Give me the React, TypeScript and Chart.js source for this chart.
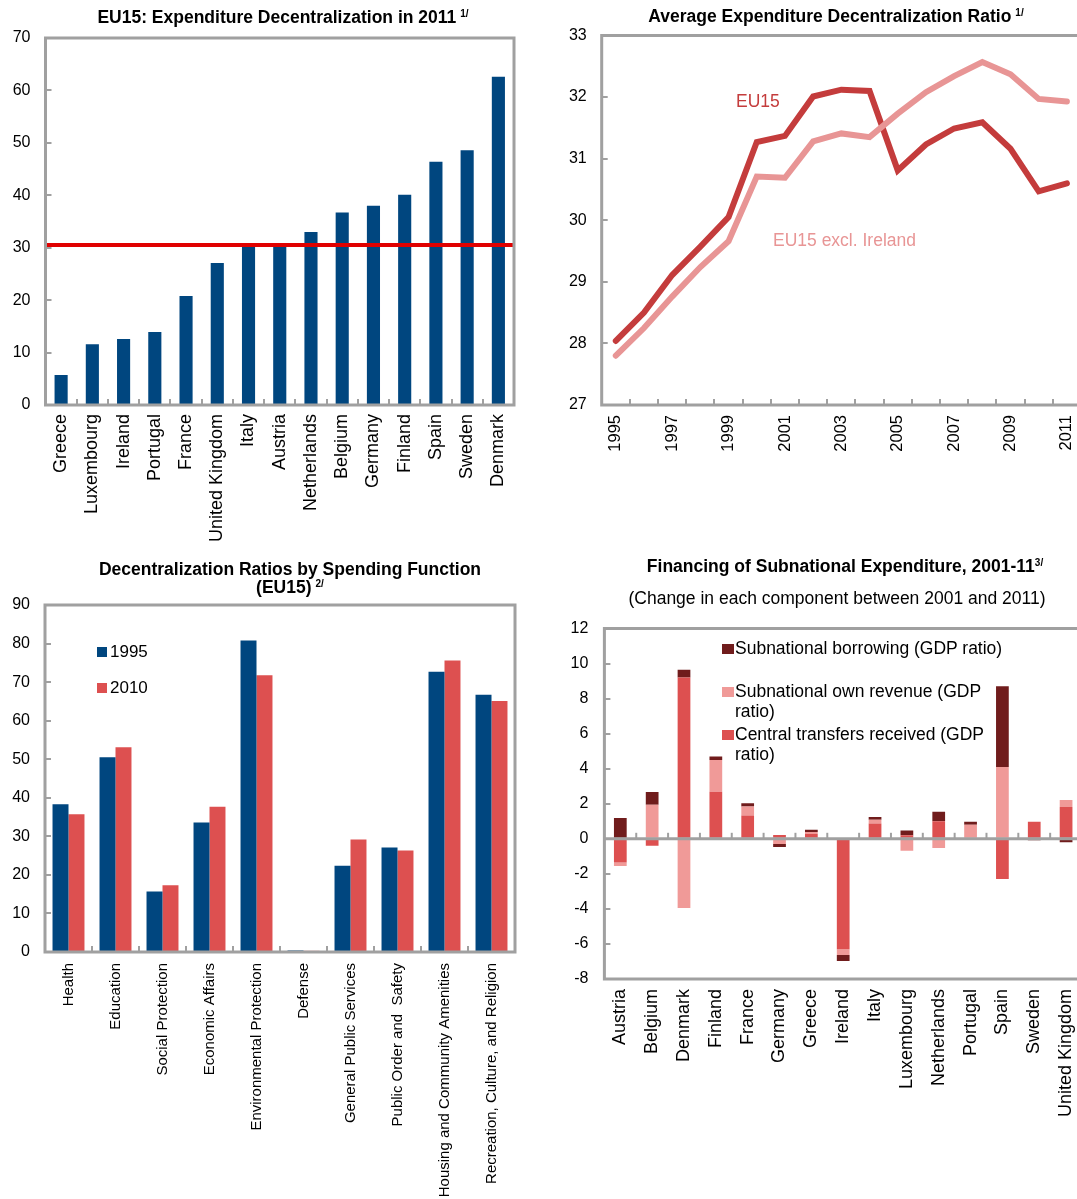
import React, { useEffect, useRef } from 'react';
import { Chart, registerables } from 'chart.js';

Chart.register(...registerables);

const FONT = '"Liberation Sans", Arial, Helvetica, sans-serif';
Chart.defaults.font.family = FONT;
Chart.defaults.font.size = 16;
Chart.defaults.color = '#000';

// ---------- Panel 1: EU15 expenditure decentralization in 2011 ----------
const countries2011 = [
  'Greece', 'Luxembourg', 'Ireland', 'Portugal', 'France', 'United Kingdom', 'Italy', 'Austria',
  'Netherlands', 'Belgium', 'Germany', 'Finland', 'Spain', 'Sweden', 'Denmark',
];
const decentralization2011 = [5.7, 11.6, 12.6, 13.9, 20.8, 27.1, 30.3, 30.4, 33.0, 36.7, 38.0, 40.1, 46.4, 48.6, 62.6];
const eu15Average2011 = 30.5;

// ---------- Panel 2: average expenditure decentralization ratio ----------
const years = ['1995', '1996', '1997', '1998', '1999', '2000', '2001', '2002', '2003', '2004', '2005', '2006', '2007', '2008', '2009', '2010', '2011'];
const eu15Ratio = [28.04, 28.5, 29.11, 29.57, 30.05, 31.27, 31.37, 32.01, 32.12, 32.1, 30.81, 31.23, 31.49, 31.59, 31.16, 30.47, 30.6];
const eu15ExclIrelandRatio = [27.8, 28.25, 28.76, 29.24, 29.66, 30.71, 30.69, 31.28, 31.41, 31.35, 31.73, 32.08, 32.34, 32.57, 32.37, 31.97, 31.93];

// ---------- Panel 3: decentralization ratios by spending function ----------
const spendingFunctions = [
  'Health', 'Education', 'Social Protection', 'Economic Affairs', 'Environmental Protection', 'Defense',
  'General Public Services', 'Public Order and  Safety', 'Housing and Community Amenities', 'Recreation, Culture, and Religion',
];
const ratios1995 = [38.3, 50.5, 15.7, 33.6, 80.8, 0.4, 22.4, 27.1, 72.7, 66.7];
const ratios2010 = [35.7, 53.1, 17.3, 37.7, 71.8, 0.3, 29.2, 26.3, 75.6, 65.1];

// ---------- Panel 4: financing of subnational expenditure ----------
const financingCountries = [
  'Austria', 'Belgium', 'Denmark', 'Finland', 'France', 'Germany', 'Greece', 'Ireland', 'Italy',
  'Luxembourg', 'Netherlands', 'Portugal', 'Spain', 'Sweden', 'United Kingdom',
];
const centralTransfers = [-1.35, -0.4, 9.2, 2.68, 1.33, 0.22, 0.27, -6.3, 0.88, 0.2, 1.0, 0, -2.3, 0.98, 1.82];
const ownRevenue = [-0.2, 1.95, -3.95, 1.82, 0.52, -0.3, 0.12, -0.33, 0.2, -0.68, -0.52, 0.8, 4.1, 0, 0.4];
const borrowing = [1.18, 0.72, 0.45, 0.2, 0.18, -0.17, 0.12, -0.35, 0.17, 0.27, 0.55, 0.18, 4.6, -0.08, -0.2];

// ---------- styles ----------
const GRAY = '#A0A0A0';
const NAVY = '#00467F';
const RED = '#DD5050';
const PINK = '#F09A98';
const DARK = '#701C1C';
const LINE_DARK = '#C43C3C';
const LINE_LIGHT = '#E89595';

const framePlugin = {
  id: 'frame',
  afterDraw(chart: any) {
    const { ctx, chartArea } = chart;
    const { left, top, right, bottom } = chartArea;
    ctx.save();
    ctx.strokeStyle = GRAY;
    ctx.lineWidth = 3;
    ctx.strokeRect(left, top, right - left, bottom - top);
    ctx.restore();
  },
};

const zeroLinePlugin = {
  id: 'zeroLine',
  afterDatasetsDraw(chart: any) {
    const { ctx, chartArea, scales } = chart;
    const y = scales.y.getPixelForValue(0);
    ctx.save();
    ctx.strokeStyle = GRAY;
    ctx.lineWidth = 3;
    ctx.beginPath();
    ctx.moveTo(chartArea.left, y);
    ctx.lineTo(chartArea.right, y);
    ctx.stroke();
    const n = scales.x.ticks.length;
    const half = (scales.x.getPixelForValue(1) - scales.x.getPixelForValue(0)) / 2;
    ctx.lineWidth = 2;
    for (let i = 0; i < n - 1; i++) {
      const x = scales.x.getPixelForValue(i) + half;
      ctx.beginPath();
      ctx.moveTo(x, y);
      ctx.lineTo(x, y - 6);
      ctx.stroke();
    }
    ctx.restore();
  },
};

const zeroPadding = (s: any) => {
  s.paddingTop = 0;
  s.paddingBottom = 0;
  s.paddingLeft = 0;
  s.paddingRight = 0;
};

function yAxis(min: number, max: number, step: number, width: number, pad: number) {
  return {
    min,
    max,
    ticks: { stepSize: step, padding: pad, color: '#000', font: { size: 16 } },
    grid: { drawOnChartArea: false, tickLength: -6, color: GRAY, lineWidth: 2 },
    border: { display: false },
    afterFit: (s: any) => {
      s.width = width;
      zeroPadding(s);
    },
  };
}

function xAxis(height: number, pad: number, size: number, showTicks = true) {
  return {
    offset: true,
    ticks: { autoSkip: false, minRotation: 90, maxRotation: 90, padding: pad, color: '#000', font: { size } },
    grid: { display: showTicks, drawOnChartArea: false, tickLength: -6, color: GRAY, lineWidth: 2, offset: true },
    border: { display: false },
    afterFit: (s: any) => {
      s.height = height;
      zeroPadding(s);
    },
  };
}

const baseOptions = {
  responsive: false,
  animation: false,
  devicePixelRatio: 1,
  plugins: { legend: { display: false }, tooltip: { enabled: false }, title: { display: false } },
};

function ChartCanvas(props: { left: number; top: number; width: number; height: number; make: () => any }) {
  const ref = useRef<HTMLCanvasElement | null>(null);
  useEffect(() => {
    if (!ref.current) return;
    const chart = new Chart(ref.current, props.make());
    return () => chart.destroy();
  }, []);
  return (
    <canvas
      ref={ref}
      width={props.width}
      height={props.height}
      style={{ position: 'absolute', left: props.left, top: props.top, width: props.width, height: props.height }}
    />
  );
}

const chart1 = () => ({
  type: 'bar',
  data: {
    labels: countries2011,
    datasets: [
      {
        type: 'bar',
        data: decentralization2011,
        backgroundColor: NAVY,
        categoryPercentage: 0.42,
        barPercentage: 1.0,
        grouped: false,
        order: 2,
      },
      {
        type: 'line',
        xAxisID: 'x2',
        data: [
          { x: 0, y: eu15Average2011 },
          { x: 1, y: eu15Average2011 },
        ],
        borderColor: '#E00000',
        borderWidth: 4,
        pointRadius: 0,
        clip: false,
        order: 1,
      },
    ],
  },
  options: {
    ...baseOptions,
    layout: { padding: { top: 8, right: 16, left: 0, bottom: 0 } },
    scales: {
      x: xAxis(165, 15, 18),
      x2: {
        type: 'linear',
        display: false,
        offset: false,
        grid: { offset: false },
        min: 0,
        max: 1,
        afterFit: zeroPadding,
      },
      y: yAxis(0, 70, 10, 45.5, 21),
    },
  },
  plugins: [framePlugin],
});

const chart2 = () => ({
  type: 'line',
  data: {
    labels: years,
    datasets: [
      {
        data: eu15ExclIrelandRatio,
        borderColor: LINE_LIGHT,
        borderWidth: 6,
        pointRadius: 0,
        borderCapStyle: 'round',
        tension: 0,
      },
      {
        data: eu15Ratio,
        borderColor: LINE_DARK,
        borderWidth: 6,
        pointRadius: 0,
        borderCapStyle: 'round',
        tension: 0,
      },
    ],
  },
  options: {
    ...baseOptions,
    layout: { padding: { top: 10.5, right: 4, left: 0, bottom: 0 } },
    scales: {
      x: {
        ...xAxis(90, 16, 16),
        ticks: {
          autoSkip: false,
          minRotation: 90,
          maxRotation: 90,
          padding: 16,
          color: '#000',
          font: { size: 16.5 },
          callback: (_v: any, i: number) => (i % 2 === 0 ? years[i] : ''),
        },
      },
      y: yAxis(27, 33, 1, 56.7, 21),
    },
  },
  plugins: [framePlugin],
});

const chart3 = () => ({
  type: 'bar',
  data: {
    labels: spendingFunctions,
    datasets: [
      { label: '1995', data: ratios1995, backgroundColor: NAVY, categoryPercentage: 0.68, barPercentage: 1.0 },
      { label: '2010', data: ratios2010, backgroundColor: RED, categoryPercentage: 0.68, barPercentage: 1.0 },
    ],
  },
  options: {
    ...baseOptions,
    layout: { padding: { top: 10, right: 15, left: 0, bottom: 0 } },
    scales: {
      x: xAxis(247, 17, 15),
      y: yAxis(0, 90, 10, 45, 21),
    },
  },
  plugins: [framePlugin],
});

const chart4 = () => ({
  type: 'bar',
  data: {
    labels: financingCountries,
    datasets: [
      { label: 'Central transfers received (GDP ratio)', data: centralTransfers, backgroundColor: RED, categoryPercentage: 0.4, barPercentage: 1.0 },
      { label: 'Subnational own revenue (GDP ratio)', data: ownRevenue, backgroundColor: PINK, categoryPercentage: 0.4, barPercentage: 1.0 },
      { label: 'Subnational borrowing (GDP ratio)', data: borrowing, backgroundColor: DARK, categoryPercentage: 0.4, barPercentage: 1.0 },
    ],
  },
  options: {
    ...baseOptions,
    layout: { padding: { top: 13.5, right: 3, left: 0, bottom: 0 } },
    scales: {
      x: { ...xAxis(220, 16, 18, false), stacked: true },
      y: { ...yAxis(-8, 12, 2, 59.4, 22), stacked: true },
    },
  },
  plugins: [framePlugin, zeroLinePlugin],
});

const titleStyle = (cx: number, top: number, bold = true): React.CSSProperties => ({
  position: 'absolute',
  left: cx - 300,
  width: 600,
  top,
  textAlign: 'center',
  fontFamily: FONT,
  fontWeight: bold ? 'bold' : 'normal',
  fontSize: 17.5,
  lineHeight: '18px',
  color: '#000',
  whiteSpace: 'nowrap',
});

const supStyle: React.CSSProperties = { fontSize: 10, verticalAlign: 'top', position: 'relative', top: -3, marginLeft: 4 };

const textStyle = (left: number, top: number, color = '#000', size = 17.5): React.CSSProperties => ({
  position: 'absolute',
  left,
  top,
  fontFamily: FONT,
  fontSize: size,
  lineHeight: '20px',
  color,
  whiteSpace: 'nowrap',
});

const box = (left: number, top: number, color: string, w = 11, h = 10): React.CSSProperties => ({
  position: 'absolute',
  left,
  top,
  width: w,
  height: h,
  background: color,
});

export default function App() {
  return (
    <div style={{ position: 'absolute', left: 0, top: 0, width: 1077, height: 1199, overflow: 'hidden', background: '#fff' }}>
      <ChartCanvas left={0} top={30} width={530} height={540} make={chart1} />
      <ChartCanvas left={545} top={25} width={540} height={470} make={chart2} />
      <ChartCanvas left={0} top={595} width={530} height={604} make={chart3} />
      <ChartCanvas left={545} top={615} width={540} height={584} make={chart4} />

      <div style={titleStyle(283, 8)}>
        EU15: Expenditure Decentralization in 2011<span style={supStyle}>1/</span>
      </div>
      <div style={titleStyle(836, 7)}>
        Average Expenditure Decentralization Ratio<span style={supStyle}>1/</span>
      </div>
      <div style={titleStyle(290, 560)}>
        Decentralization Ratios by Spending Function
        <br />
        (EU15)<span style={supStyle}>2/</span>
      </div>
      <div style={titleStyle(845, 557)}>
        Financing of Subnational Expenditure, 2001-11<span style={{ ...supStyle, marginLeft: 0 }}>3/</span>
      </div>
      <div style={titleStyle(837, 589, false)}>(Change in each component between 2001 and 2011)</div>

      <div style={textStyle(736, 91, LINE_DARK)}>EU15</div>
      <div style={textStyle(773, 230, LINE_LIGHT)}>EU15 excl. Ireland</div>

      <div style={box(97, 647, NAVY, 10, 10)} />
      <div style={textStyle(110, 642, '#000', 17)}>1995</div>
      <div style={box(97, 683, RED, 10, 10)} />
      <div style={textStyle(110, 678, '#000', 17)}>2010</div>

      <div style={box(722, 644, DARK, 12, 10)} />
      <div style={textStyle(735, 638)}>Subnational borrowing (GDP ratio)</div>
      <div style={box(722, 687, PINK, 12, 10)} />
      <div style={textStyle(735, 681)}>
        Subnational own revenue (GDP
        <br />
        ratio)
      </div>
      <div style={box(722, 730, RED, 12, 10)} />
      <div style={textStyle(735, 724)}>
        Central transfers received (GDP
        <br />
        ratio)
      </div>
    </div>
  );
}
